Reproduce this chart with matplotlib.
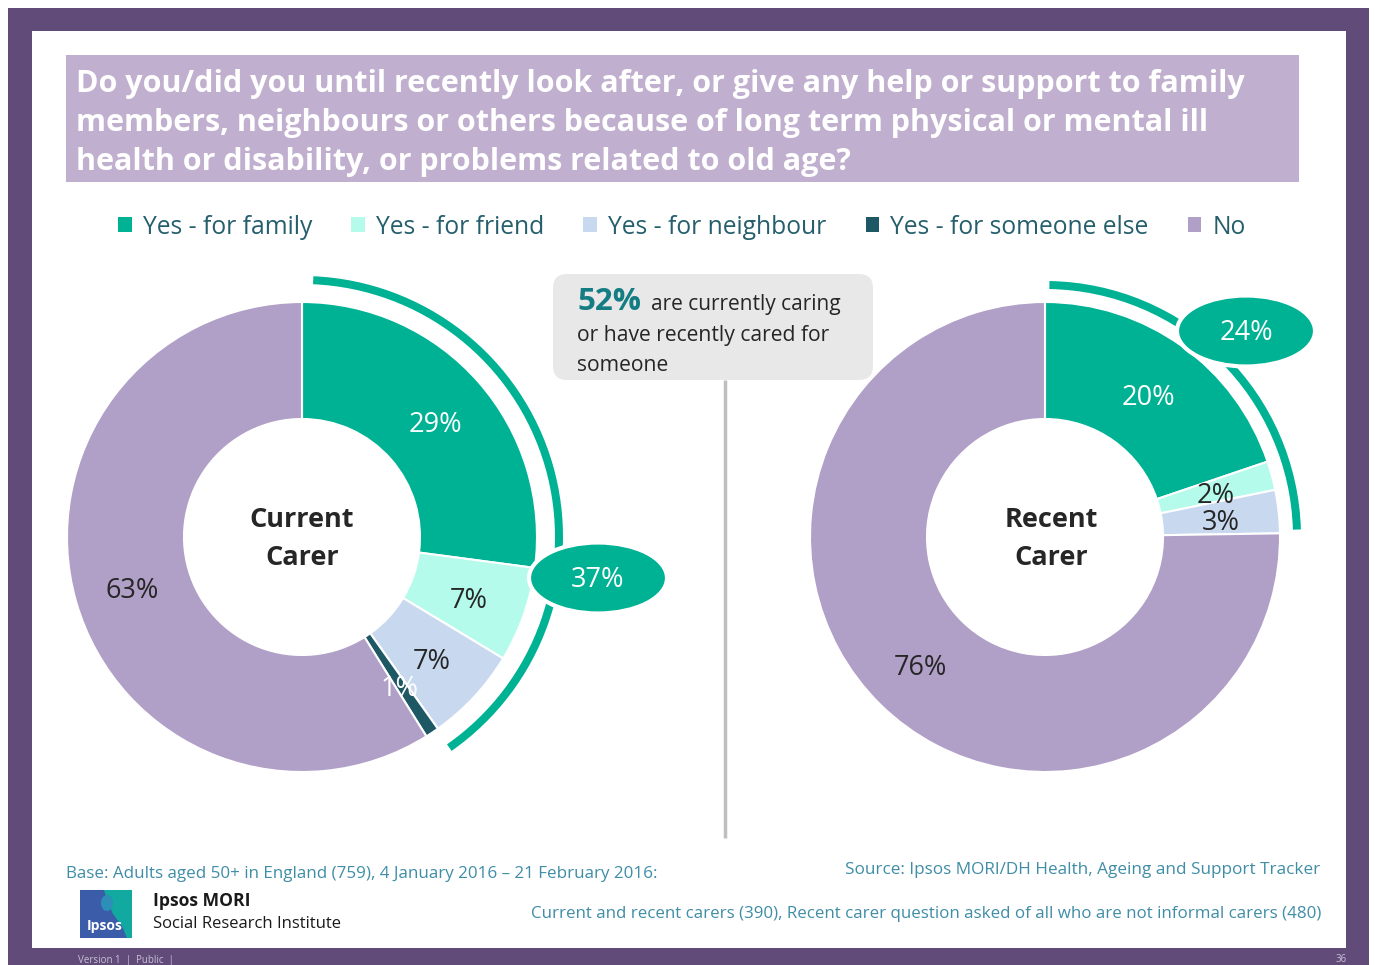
import matplotlib
matplotlib.use("Agg")
import matplotlib.pyplot as plt
from matplotlib.patches import Rectangle, FancyBboxPatch, Wedge, Ellipse, Polygon

W, H = 1375, 965

# ---- data -------------------------------------------------------------
categories = ["Yes - for family", "Yes - for friend", "Yes - for neighbour",
              "Yes - for someone else", "No"]
current_values = [29, 7, 7, 1, 63]
recent_categories = ["Yes - for family", "Yes - for friend", "Yes - for neighbour", "No"]
recent_values = [20, 2, 3, 76]
current_any = 37
recent_any = 24
headline_pct = 52

title_lines = [
    "Do you/did you until recently look after, or give any help or support to family",
    "members, neighbours or others because of long term physical or mental ill",
    "health or disability, or problems related to old age?",
]

# ---- style ------------------------------------------------------------
FONT = "Open Sans"
plt.rcParams["font.family"] = [FONT, "DejaVu Sans"]

palette = {
    "Yes - for family": "#00B294",
    "Yes - for friend": "#B5FBEC",
    "Yes - for neighbour": "#C8D9EF",
    "Yes - for someone else": "#1F5865",
    "No": "#B09FC6",
}
label_color = {
    "Yes - for family": "white",
    "Yes - for friend": "#262626",
    "Yes - for neighbour": "#262626",
    "Yes - for someone else": "white",
    "No": "#262626",
}
TEAL = "#00B294"
FRAME = "#614C79"
TITLE_BG = "#C0AFCE"
TEXT_DARK = "#262626"
FOOT = "#3F8DA6"


def Y(y):
    """Convert a top-down pixel row into the axes' bottom-up coordinate."""
    return H - y


fig = plt.figure(figsize=(W / 100, H / 100), dpi=100, facecolor="white")
ax = fig.add_axes([0, 0, 1, 1])

# ---- frame ------------------------------------------------------------
ax.add_patch(Rectangle((8, 0), 1361, Y(8), fc=FRAME, ec="none", zorder=0))
ax.add_patch(Rectangle((32, Y(948)), 1314, 948 - 31, fc="white", ec="none", zorder=0.5))

# ---- title ------------------------------------------------------------
ax.add_patch(Rectangle((66, Y(182)), 1233, 127, fc=TITLE_BG, ec="none", zorder=1))
for i, line in enumerate(title_lines):
    ax.text(76, Y(92 + 39 * i), line, color="white", fontsize=22,
            fontweight="bold", va="baseline", ha="left", zorder=2)


def donut(values, cats, cx, cy, radius=235, ring=117):
    total = sum(values)
    wedges, _, autotexts = ax.pie(
        values,
        colors=[palette[c] for c in cats],
        startangle=90, counterclock=False,
        radius=radius, center=(cx, Y(cy)),
        autopct=lambda p, t=total: f"{p * t / 100:.0f}%",
        pctdistance=177 / radius,
        wedgeprops=dict(width=ring, edgecolor="white", linewidth=1.5),
        textprops=dict(fontsize=19.5),
    )
    for t, c in zip(autotexts, cats):
        t.set_color(label_color[c])
        t.set_zorder(6)
        x, y = t.get_position()
        t.set_position((x, y - 5))
    for w in wedges:
        w.set_zorder(3)
    return wedges


left_w = donut(current_values, categories, 302, 537)
right_w = donut(recent_values, recent_categories, 1045, 537)

# centre captions
for x, txt in [(302, "Current\nCarer"), (1051, "Recent\nCarer")]:
    ax.text(x, Y(539), txt, fontsize=19.5, fontweight="bold", color=TEXT_DARK,
            ha="center", va="center", linespacing=1.6, zorder=6)


def yes_arc(wedges, n_yes, cx, cy, r_out, gap_start, gap_end, width=8):
    lo = min(w.theta1 for w in wedges[:n_yes])
    hi = max(w.theta2 for w in wedges[:n_yes])
    ax.add_patch(Wedge((cx, Y(cy)), r_out, lo + gap_end, hi - gap_start,
                       width=width, fc=TEAL, ec="none", zorder=3))


yes_arc(left_w, 4, 302, 537, 261, 2.5, 3.0)
yes_arc(right_w, 3, 1045, 537, 256, 1.0, 0.8)

# net "any yes" bubbles
for (ex, ey), val in [((598, 578), current_any), ((1246, 331), recent_any)]:
    ax.add_patch(Ellipse((ex, Y(ey)), 138, 71, fc=TEAL, ec="white", lw=3, zorder=4))
    ax.text(ex, Y(ey + 2), f"{val}%", color="white", fontsize=19.5, ha="center",
            va="center", zorder=6)

# ---- central call-out -------------------------------------------------
ax.plot([725, 725], [Y(380), Y(838)], color="#BFBFBF", lw=2.5, zorder=1,
        solid_capstyle="butt")
ax.add_patch(FancyBboxPatch((553, Y(380)), 320, 106,
                            boxstyle="round,pad=0,rounding_size=14",
                            fc="#E8E8E8", ec="none", zorder=2))
ax.text(577, Y(310), f"{headline_pct}%", fontsize=22.5, fontweight="bold",
        color="#147C83", va="baseline", ha="left", zorder=3)
ax.text(651, Y(310), "are currently caring", fontsize=15, color=TEXT_DARK,
        va="baseline", ha="left", zorder=3)
ax.text(577, Y(341), "or have recently cared for", fontsize=15.2, color=TEXT_DARK,
        va="baseline", ha="left", zorder=3)
ax.text(577, Y(371), "someone", fontsize=15.2, color=TEXT_DARK,
        va="baseline", ha="left", zorder=3)

# ---- legend -----------------------------------------------------------
leg = ax.legend(left_w, categories, loc="center left",
                bbox_to_anchor=(118 / W, 1 - 227 / H), ncol=5, frameon=False,
                fontsize=17.7, handlelength=0.55, handleheight=0.55,
                handletextpad=0.45, columnspacing=1.6, labelcolor="#255E6C",
                borderaxespad=0, borderpad=0)
for h in leg.legend_handles:
    h.set_edgecolor("none")

# ---- footer -----------------------------------------------------------
ax.text(66, Y(874), "Base: Adults aged 50+ in England (759), 4 January 2016 \u2013 21 February 2016:",
        fontsize=12.25, color=FOOT, ha="left", va="center")
ax.text(1320, Y(870), "Source: Ipsos MORI/DH Health, Ageing and Support Tracker",
        fontsize=12.3, color=FOOT, ha="right", va="center")
ax.text(1321, Y(914), "Current and recent carers (390), Recent carer question asked of all who are not informal carers (480)",
        fontsize=12.15, color=FOOT, ha="right", va="center")

# logo block
ax.add_patch(Rectangle((80, Y(938)), 52, 48, fc="#3B5CA9", ec="none", zorder=2))
ax.add_patch(Polygon([(104, Y(890)), (132, Y(890)), (132, Y(938)), (127, Y(938)),
                      (122, Y(926)), (113, Y(914)), (108, Y(903))],
                     closed=True, fc="#11A9A0", ec="none", zorder=3))
ax.add_patch(Ellipse((107, Y(903)), 12, 16, fc="#2D8FB8", ec="none", zorder=3))
ax.text(105, Y(926), "Ipsos", color="white", fontsize=10, fontweight="bold",
        ha="center", va="center", zorder=4)
ax.text(153, Y(901), "Ipsos MORI", color="#1A1A1A", fontsize=12.6,
        fontweight="bold", ha="left", va="center")
ax.text(153, Y(924), "Social Research Institute", color="#1A1A1A", fontsize=12,
        ha="left", va="center")

# bottom band
ax.text(78, Y(960), "Version 1  |  Public  |", color="#C9C0D6", fontsize=7,
        ha="left", va="center")
ax.text(1347, Y(960), "36", color="#C9C0D6", fontsize=7, ha="right", va="center")

ax.set_xlim(0, W)
ax.set_ylim(0, H)
ax.set_aspect("equal")
ax.axis("off")

fig.savefig("out.png", dpi=100, facecolor="white")
